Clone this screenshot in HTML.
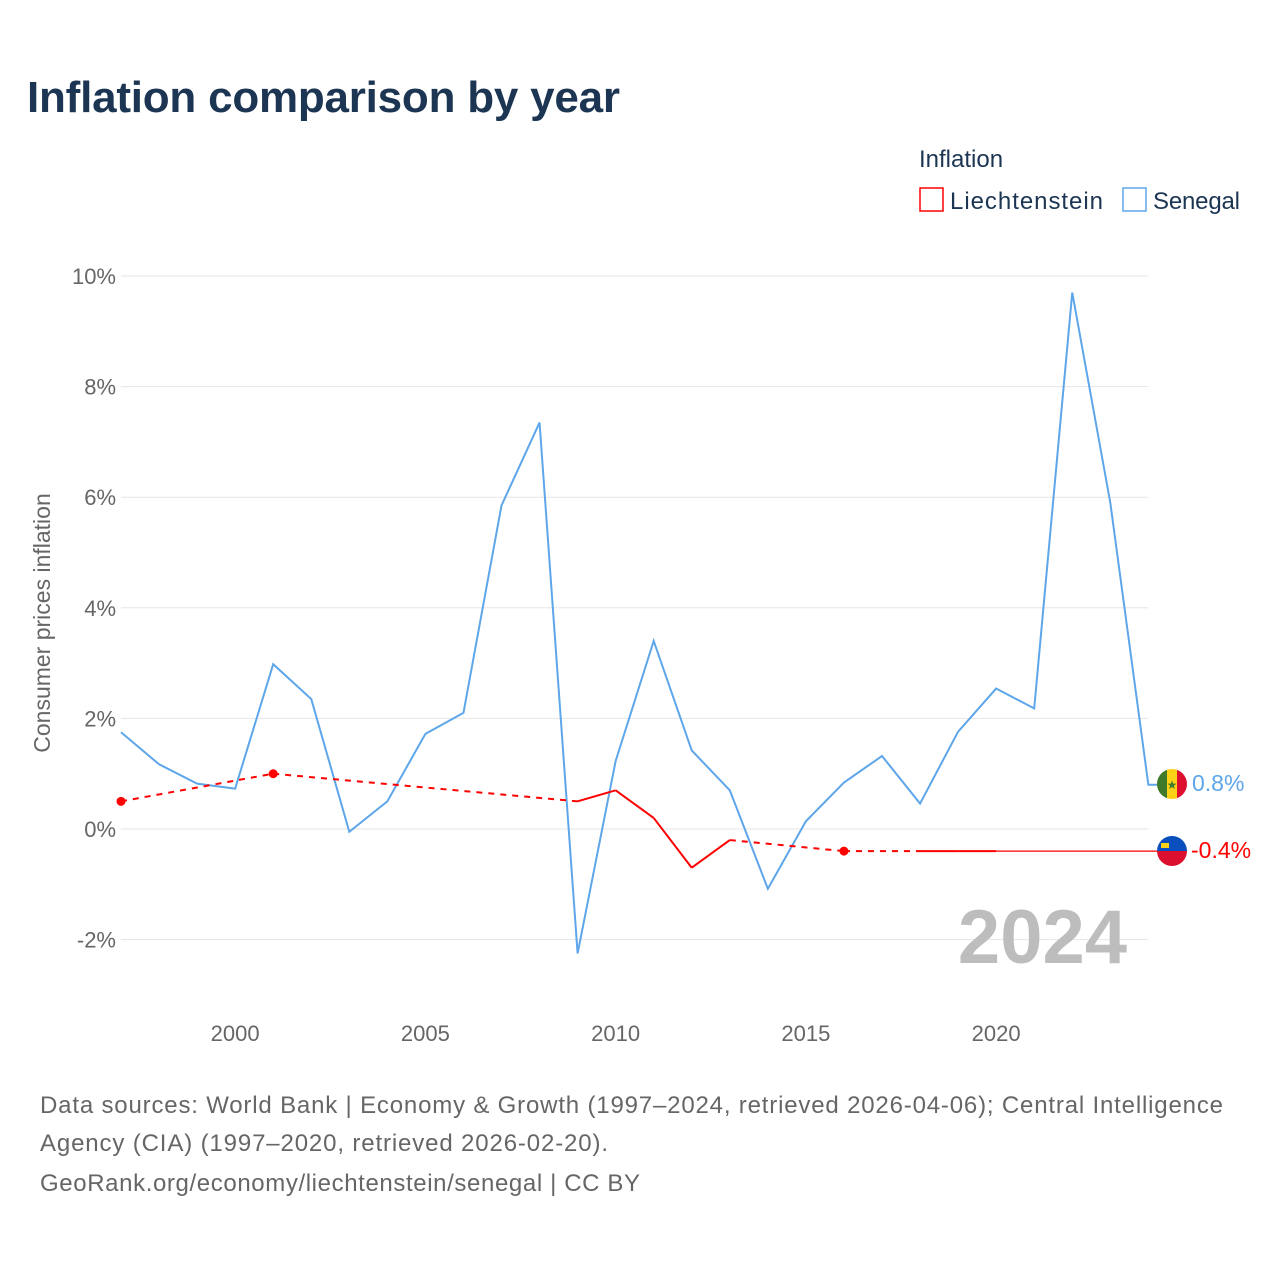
<!DOCTYPE html>
<html><head><meta charset="utf-8"><style>
body{margin:0;background:#fff;font-family:"Liberation Sans",sans-serif}
</style></head><body>
<svg width="1280" height="1280" xmlns="http://www.w3.org/2000/svg" style="font-family:'Liberation Sans',sans-serif">
<text x="27" y="112" font-size="44" font-weight="bold" fill="#1c3553" textLength="593">Inflation comparison by year</text>
<text x="919" y="167" font-size="24" fill="#1c3553">Inflation</text>
<g><rect x="920" y="188" width="23" height="23" fill="none" stroke="#f00" stroke-width="1.5"/><text x="950" y="209" font-size="24" fill="#1c3553" textLength="153">Liechtenstein</text></g>
<g><rect x="1123" y="188" width="23" height="23" fill="none" stroke="#5ea6ea" stroke-width="1.5"/><text x="1153" y="209" font-size="24" fill="#1c3553" textLength="87">Senegal</text></g>
<g id="grid"></g><g id="marks"></g>
<text x="1127" y="963" font-size="76" font-weight="bold" fill="#bdbdbd" text-anchor="end">2024</text>
<text transform="translate(50,623) rotate(-90)" font-size="23" fill="#666" text-anchor="middle">Consumer prices inflation</text>
<g><clipPath id="cs"><circle cx="1172" cy="784" r="15"/></clipPath><g clip-path="url(#cs)"><rect x="1157" y="769" width="10" height="30" fill="#3e7a2a"/><rect x="1167" y="769" width="10" height="30" fill="#fcd116"/><rect x="1177" y="769" width="10" height="30" fill="#dc0f2f"/></g><text x="1172" y="789" font-size="12" fill="#3e7a2a" text-anchor="middle">★</text></g>
<g><clipPath id="cl"><circle cx="1172" cy="851" r="15"/></clipPath><g clip-path="url(#cl)"><rect x="1157" y="836" width="30" height="15" fill="#0a4fbe"/><rect x="1157" y="851" width="30" height="15" fill="#dc0f2f"/></g><rect x="1161" y="843" width="8" height="5" fill="#fcd116"/></g>
<text x="1192" y="791" font-size="23" fill="#5ea6ea">0.8%</text>
<text x="1191" y="858" font-size="23" fill="#f00">-0.4%</text>
<g font-size="24" fill="#666">
<text x="40" y="1113" textLength="1183">Data sources: World Bank | Economy &amp; Growth (1997–2024, retrieved 2026-04-06); Central Intelligence</text>
<text x="40" y="1151" textLength="568">Agency (CIA) (1997–2020, retrieved 2026-02-20).</text>
<text x="40" y="1191" textLength="600">GeoRank.org/economy/liechtenstein/senegal | CC BY</text></g>
</svg>
<script>
const years=[1997,1998,1999,2000,2001,2002,2003,2004,2005,2006,2007,2008,2009,2010,2011,2012,2013,2014,2015,2016,2017,2018,2019,2020,2021,2022,2023,2024];
const senegal=[1.75,1.17,0.82,0.73,2.98,2.35,-0.05,0.5,1.72,2.1,5.85,7.35,-2.25,1.23,3.4,1.42,0.7,-1.08,0.14,0.84,1.32,0.46,1.76,2.54,2.18,9.7,5.9,0.8];
const liech=[0.5,null,null,null,1.0,null,null,null,null,null,null,null,0.5,0.7,0.2,-0.7,-0.2,null,null,-0.4,null,-0.4,-0.4,-0.4,null,null,null,null];
const yTicks=[-2,0,2,4,6,8,10];
const xTicks=[2000,2005,2010,2015,2020];
const NS="http://www.w3.org/2000/svg";
const X=y=>121+(y-1997)*38.05, Y=v=>829-v*55.3;
function el(t,a,p){const e=document.createElementNS(NS,t);for(const k in a)e.setAttribute(k,a[k]);document.getElementById(p).appendChild(e);return e;}
yTicks.forEach(t=>{
 const l=el('line',{x1:121,x2:1148,y1:Y(t),y2:Y(t),stroke:'#e6e6e6','stroke-width':1},'grid');
 
 
 const tx=el('text',{x:116,y:Y(t)+8,'font-size':22,fill:'#666','text-anchor':'end'},'grid');tx.textContent=t+'%';
 
 
});
xTicks.forEach(t=>{
 const tx=el('text',{x:X(t),y:1041,'font-size':22,fill:'#666','text-anchor':'middle'},'grid');tx.textContent=t;
 
 
});
const sp=el('polyline',{points:senegal.map((v,i)=>X(years[i])+','+Y(v)).join(' ')+' 1158,'+Y(senegal[senegal.length-1]),fill:'none',stroke:'#5ea6ea','stroke-width':2},'marks');


let prev=-1;
liech.forEach((v,i)=>{
 if(v===null)return;
 if(prev>=0){
  const seg=el('line',{x1:X(years[prev]),y1:Y(liech[prev]),x2:X(years[i]),y2:Y(v),stroke:'#f00','stroke-width':2},'marks');
  if(i-prev>1)seg.setAttribute('stroke-dasharray','6,6');
  
  
 }
 const iso=(i===0||liech[i-1]===null)&&(i===liech.length-1||liech[i+1]===null);
 if(iso){const c=el('circle',{cx:X(years[i]),cy:Y(v),r:4.5,fill:'#f00'},'marks');
  
  }
 prev=i;
});
const ext=el('line',{x1:X(years[prev]),y1:Y(liech[prev]),x2:1158,y2:Y(liech[prev]),stroke:'#f00','stroke-width':1.3},'marks');


</script>
</body></html>
